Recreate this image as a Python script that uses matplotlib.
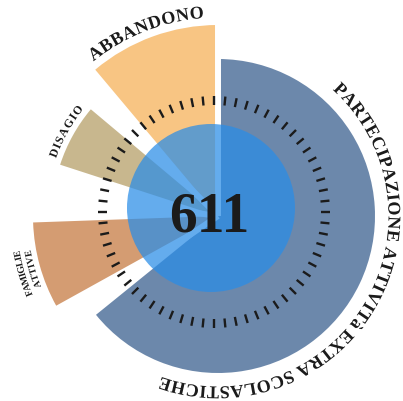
import numpy as np
import matplotlib
matplotlib.use("Agg")
import matplotlib.pyplot as plt
import matplotlib.patheffects as pe
from matplotlib import font_manager
from matplotlib.font_manager import FontProperties
from matplotlib.ft2font import FT2Font
from matplotlib.patches import Circle

# sectors: bearing in degrees, clockwise from north
labels = ["PARTECIPAZIONE ATTIVITà EXTRA SCOLASTICHE", "FAMIGLIE ATTIVE", "DISAGIO", "ABBANDONO"]
start_deg = [0, 241, 288, 320]
end_deg = [231, 268, 310, 360]
radius = [157, 185, 166, 191]
total = 611

colors = ["#6C88AB", "#D49C72", "#C8B78E", "#F8C583"]
disk_color = "#2A8DE7"
ink = "#1b1b1b"

W, H = 403, 401
cx, cy = 218, 216  # centre of the chart in pixels (from top-left)
R = 200

fig = plt.figure(figsize=(W / 100, H / 100), dpi=100)
rect = [(cx - R) / W, (H - cy - R) / H, 2 * R / W, 2 * R / H]

ax = fig.add_axes(rect, projection="polar")
ax.set_theta_zero_location("N")
ax.set_theta_direction(-1)
ax.set_ylim(0, R)
ax.axis("off")

start = np.array(start_deg, dtype=float)
end = np.array(end_deg, dtype=float)
mid = (start + end) / 2
ax.bar(np.radians(mid), radius, width=np.radians(end - start), bottom=0,
       color=colors, align="center", linewidth=0)

# thin white seams between the sectors, running into the centre
seams = [0, (end[0] + start[1]) / 2, (end[1] + start[2]) / 2, (end[2] + start[3]) / 2]
for s in seams:
    ax.plot([np.radians(s)] * 2, [0, 192], color="white", lw=4.3, solid_capstyle="butt")


# curved labels, tops facing outward, reading clockwise
# (drawn through a path effect so rotated glyphs are placed as outlines)
def arc_text(s, mid_b, r, size, span):
    prop = FontProperties(family="Liberation Serif", weight="bold", size=size)
    f = FT2Font(font_manager.findfont(prop))
    f.set_size(size, 100)
    adv = np.array([f.load_char(ord(ch)).linearHoriAdvance / 65536 for ch in s])
    centers = np.cumsum(adv) - adv / 2
    rel = (centers - centers[0]) / (centers[-1] - centers[0])
    bearings = mid_b - span / 2 + rel * span
    for ch, b in zip(s, bearings):
        if ch == " ":
            continue
        ax.text(np.radians(b), r, ch, rotation=-b, rotation_mode="anchor",
                ha="center", va="center", fontproperties=prop, color=ink,
                path_effects=[pe.Normal()])


arc_text(labels[0], 120.8, 175, 13, 153.5)
fam1, fam2 = labels[1].split(" ")
arc_text(fam1, 253.5, 204, 7, 11.5)
arc_text(fam2, 254.0, 193, 7, 9.5)
arc_text(labels[2], 299, 175, 8.5, 16)
arc_text(labels[3], 338.5, 203, 13, 31)

# overlay in pixel units around the centre: disk, tick ring, total
ax2 = fig.add_axes(rect)
ax2.set_xlim(-R, R)
ax2.set_ylim(-R, R)
ax2.axis("off")

ax2.add_patch(Circle((-7, 8), 84, facecolor=disk_color, alpha=0.73, linewidth=0))

n_ticks = 64
ang = np.linspace(0, 2 * np.pi, n_ticks, endpoint=False)
for a in ang:
    x0, y0 = -4 + 107 * np.sin(a), 4 + 107 * np.cos(a)
    x1, y1 = -4 + 116 * np.sin(a), 4 + 116 * np.cos(a)
    ax2.plot([x0, x1], [y0, y1], color=ink, lw=1.7, solid_capstyle="butt")

ax2.text(-9, -1.5, str(total), ha="center", va="center", fontsize=40,
         fontfamily="Liberation Serif", fontweight="bold", color=ink)

fig.savefig("out.png", dpi=100)
